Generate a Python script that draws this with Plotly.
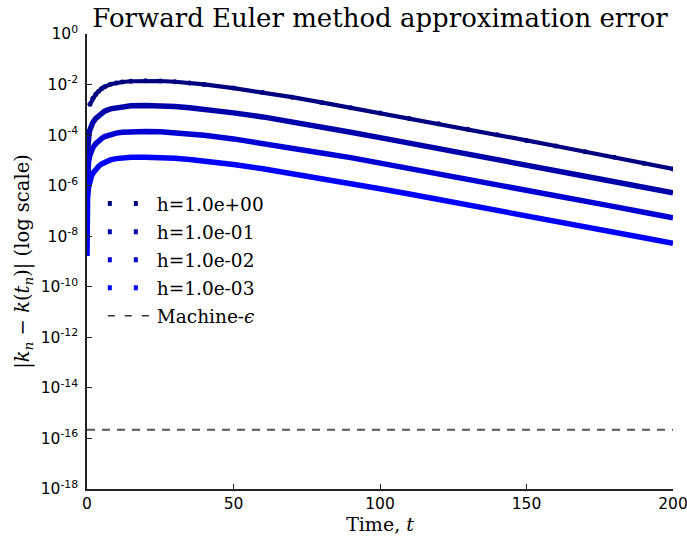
import plotly.graph_objects as go

# ---- data (log10 of |k_n - k(t_n)|) ----
t_h1 = [1, 2, 3, 4, 5, 6, 8, 10, 12, 15, 20, 25, 30, 35, 40, 50, 60, 70, 80, 90,
        100, 110, 120, 130, 140, 150, 160, 170, 180, 190, 200]
log_err_h1 = [-2.78, -2.54, -2.38, -2.26, -2.16, -2.09, -1.99, -1.94, -1.90, -1.87,
              -1.85, -1.86, -1.89, -1.935, -1.995, -2.14, -2.31, -2.50, -2.705, -2.915,
              -3.13, -3.34, -3.555, -3.77, -3.99, -4.21, -4.43, -4.655, -4.88, -5.11, -5.34]

t_h01 = [0.1, 0.2, 0.3, 0.5, 0.7, 1, 1.5, 2, 3, 4, 5, 6, 8, 10, 12, 15, 20, 25, 30, 35,
         40, 50, 60, 70, 80, 90, 100, 110, 120, 130, 140, 150, 160, 170, 180, 190, 200]
log_err_h01 = [-4.78, -4.48, -4.30, -4.08, -3.93, -3.79, -3.62, -3.50, -3.34, -3.22,
               -3.12, -3.05, -2.96, -2.91, -2.87, -2.84, -2.83, -2.84, -2.87, -2.915,
               -2.975, -3.12, -3.28, -3.47, -3.675, -3.885, -4.10, -4.31, -4.525, -4.74,
               -4.96, -5.18, -5.40, -5.625, -5.845, -6.065, -6.28]

t_h001 = [0.01, 0.02, 0.05, 0.1, 0.2, 0.5, 1, 1.5, 2, 3, 4, 5, 6, 8, 10, 12, 15, 20, 25,
          30, 35, 40, 50, 60, 70, 80, 90, 100, 110, 120, 130, 140, 150, 160, 170, 180,
          190, 200]
log_err_h001 = [-6.78, -6.48, -6.08, -5.78, -5.48, -5.08, -4.79, -4.62, -4.50, -4.34,
                -4.22, -4.13, -4.06, -3.97, -3.92, -3.89, -3.87, -3.86, -3.87, -3.90,
                -3.945, -4.005, -4.15, -4.32, -4.505, -4.705, -4.89, -5.10, -5.31, -5.525,
                -5.74, -5.955, -6.17, -6.39, -6.61, -6.83, -7.05, -7.27]

t_h0001 = [0.001, 0.002, 0.005, 0.01, 0.02, 0.05, 0.1, 0.2, 0.5, 1, 1.5, 2, 3, 4, 5, 6,
           8, 10, 12, 15, 20, 25, 30, 35, 40, 50, 60, 70, 80, 90, 100, 110, 120, 130,
           140, 150, 160, 170, 180, 190, 200]
log_err_h0001 = [-8.78, -8.48, -8.08, -7.78, -7.48, -7.08, -6.78, -6.48, -6.08, -5.80,
                 -5.63, -5.51, -5.35, -5.23, -5.14, -5.07, -4.98, -4.93, -4.90, -4.88,
                 -4.88, -4.89, -4.92, -4.965, -5.025, -5.165, -5.33, -5.515, -5.715, -5.915,
                 -6.12, -6.33, -6.54, -6.755, -6.97, -7.185, -7.40, -7.62, -7.84, -8.06,
                 -8.28]

series_names = ["h=1.0e+00", "h=1.0e-01", "h=1.0e-02", "h=1.0e-03"]
series_t = [t_h1, t_h01, t_h001, t_h0001]
series_log = [log_err_h1, log_err_h01, log_err_h001, log_err_h0001]

machine_eps = 2.22e-16
eps_t = [0, 200]

y_tick_exponents = [0, -2, -4, -6, -8, -10, -12, -14, -16, -18]
y_tick_text = ["10<sup>0</sup>", "10<sup>-2</sup>", "10<sup>-4</sup>", "10<sup>-6</sup>",
               "10<sup>-8</sup>", "10<sup>-10</sup>", "10<sup>-12</sup>",
               "10<sup>-14</sup>", "10<sup>-16</sup>", "10<sup>-18</sup>"]
x_ticks = [0, 50, 100, 150, 200]

# ---- styling ----
colors = ["#000080", "#0000aa", "#0000d5", "#0000ff"]
widths = [4.2, 5.5, 5.5, 5.5]
SERIF = "DejaVu Serif"
SANS = "DejaVu Sans"

fig = go.Figure()

for i in range(4):
    fig.add_trace(go.Scatter(
        x=series_t[i], y=[10 ** v for v in series_log[i]],
        mode="lines+markers" if i == 0 else "lines",
        line=dict(color=colors[i], width=widths[i]),
        marker=dict(color=colors[i], size=5),
        showlegend=False, hoverinfo="skip"))

fig.add_trace(go.Scatter(
    x=eps_t, y=[machine_eps, machine_eps], mode="lines",
    line=dict(color="#555555", width=2, dash="8px,7px"),
    showlegend=False, hoverinfo="skip"))

# legend entries
for i in range(4):
    fig.add_trace(go.Scatter(
        x=[None], y=[None], mode="lines", name=series_names[i],
        legendgroup="g%d" % i,
        line=dict(color=colors[i], width=5, dash="4px,22px")))
fig.add_trace(go.Scatter(
    x=[None], y=[None], mode="lines", name="Machine-<i>ϵ</i>",
    legendgroup="g4",
    line=dict(color="#333333", width=1.5, dash="7px,10px")))

fig.update_layout(
    width=687, height=538,
    margin=dict(l=87, r=14, t=34, b=49),
    paper_bgcolor="white", plot_bgcolor="white",
    title=dict(text="Forward Euler method approximation error",
               font=dict(family=SERIF, size=26, color="black"),
               x=0.5, xref="paper", xanchor="center",
               y=1 - 18 / 538, yref="container", yanchor="middle"),
    legend=dict(x=0.027, y=0.668, xanchor="left", yanchor="top",
                font=dict(family=SERIF, size=18.5, color="black"),
                bgcolor="rgba(0,0,0,0)", itemwidth=44,
                traceorder="grouped", tracegroupgap=1),
    showlegend=True,
    hovermode=False,
)

fig.update_xaxes(
    range=[0, 200], tickvals=x_ticks, ticks="inside", ticklen=5, tickwidth=1,
    tickcolor="#222", showline=True, linecolor="#222", linewidth=1.5,
    showgrid=False, zeroline=False, mirror=False, automargin=False,
    ticklabeloverflow="allow",
    tickfont=dict(family=SANS, size=15.5, color="black"),
    title=dict(text="Time, <i>t</i>", font=dict(family=SERIF, size=19, color="black"),
               standoff=4))

fig.update_yaxes(
    type="log", range=[-18, 0],
    tickvals=[10 ** e for e in y_tick_exponents], ticktext=y_tick_text,
    ticks="inside", ticklen=5, tickwidth=1, tickcolor="#222",
    showline=True, linecolor="#222", linewidth=1.5,
    showgrid=False, zeroline=False, mirror=False, automargin=False,
    ticklabelstandoff=4, ticklabeloverflow="allow",
    tickfont=dict(family=SANS, size=15.5, color="black"),
    title=dict(text="|<i>k</i><sub><i>n</i></sub> − <i>k</i>(<i>t</i><sub><i>n</i></sub>)| (log scale)",
               font=dict(family=SERIF, size=19.5, color="black"), standoff=6))

fig.write_html("out.html",
               config={"displayModeBar": False},
               post_script="document.body.style.margin='0';document.body.style.overflow='hidden';")
